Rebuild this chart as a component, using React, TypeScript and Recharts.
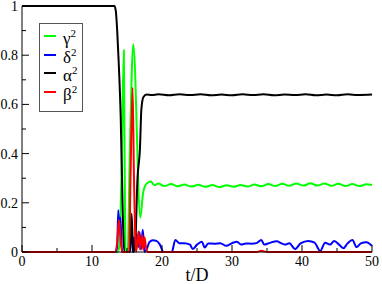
import React from 'react';
import { LineChart, Line, XAxis, YAxis, Legend } from 'recharts';

// [t/D, value]
const gamma: [number, number][] = [
  [0, 0], [13.6, 0], [13.9, 0.02], [14.2, 0.3], [14.55, 0.82], [14.75, 0.02], [15.1, 0], [15.4, 0.4],
  [15.9, 0.845], [16.9, 0.14], [17.3, 0.24], [17.8, 0.278], [18.4, 0.287], [18.9, 0.272], [19.5, 0.278],
  [20.3, 0.268], [21.3, 0.276], [22.2, 0.267], [23.2, 0.274], [24.2, 0.266], [25.2, 0.273], [26.2, 0.265],
  [27.2, 0.272], [28.2, 0.264], [29.2, 0.271], [30.2, 0.265], [31.2, 0.272], [32.2, 0.266], [33.2, 0.274],
  [34.2, 0.267], [35.2, 0.276], [36.2, 0.268], [37.2, 0.277], [38.2, 0.269], [39.2, 0.278], [40.2, 0.27],
  [41.2, 0.279], [42.2, 0.27], [43.2, 0.278], [44.2, 0.269], [45.2, 0.277], [46.2, 0.268], [47.2, 0.276],
  [48.2, 0.268], [49.2, 0.275], [50, 0.272],
];

const delta: [number, number][] = [
  [0, 0], [13.3, 0], [13.6, 0.02], [13.75, 0.17], [13.9, 0.1], [14.05, 0.14], [14.3, 0], [15.4, 0],
  [15.6, 0.15], [15.8, 0], [16.0, 0.06], [16.2, 0.01], [16.4, 0.07], [16.6, 0.02], [16.8, 0.08], [17.0, 0.01],
  [17.25, 0.09], [17.5, 0], [17.8, 0.01], [18.2, 0.04], [18.7, 0.048], [19.2, 0.045], [19.7, 0.03], [20.2, 0],
  [21.4, 0], [21.9, 0.049], [22.5, 0.036], [23.2, 0.036], [24.0, 0.03], [24.4, 0.012], [25.0, 0.03],
  [25.7, 0.042], [26.1, 0.018], [26.6, 0.035], [27.5, 0.034], [28.3, 0.036], [29.2, 0.025], [30.0, 0.036],
  [30.7, 0.042], [31.3, 0.03], [32.0, 0.035], [32.8, 0.034], [33.5, 0.036], [34.2, 0.049], [34.6, 0.03],
  [35.3, 0.036], [36.4, 0.044], [37.0, 0.036], [37.6, 0.03], [38.2, 0.036], [39.0, 0.012], [39.8, 0.035],
  [40.9, 0.045], [41.8, 0.038], [42.6, 0.004], [43.3, 0.038], [44.0, 0.03], [44.6, 0.045], [45.3, 0.03],
  [45.9, 0.015], [46.5, 0.035], [47.2, 0.049], [47.8, 0.02], [48.4, 0.035], [49.2, 0.04], [50, 0.025],
];

const alpha: [number, number][] = [
  [0, 1], [13.2, 1], [13.4, 0.98], [13.6, 0.9], [13.8, 0.78], [14.1, 0.55], [14.4, 0.15], [14.6, 0],
  [15.45, 0], [15.65, 0.155], [15.9, 0], [16.15, 0.02], [16.5, 0.3], [16.85, 0.42], [17.05, 0.58],
  [17.35, 0.63], [17.8, 0.64], [18.5, 0.638], [19.5, 0.641], [21.0, 0.637], [22.5, 0.641], [24.0, 0.638],
  [25.5, 0.641], [27.0, 0.637], [28.5, 0.64], [30.0, 0.637], [31.5, 0.641], [33.0, 0.638], [34.5, 0.641],
  [36.0, 0.637], [37.5, 0.64], [39.0, 0.638], [40.5, 0.641], [42.0, 0.637], [43.5, 0.64], [45.0, 0.637],
  [46.5, 0.641], [48.0, 0.638], [50, 0.64],
];

const beta: [number, number][] = [
  [0, 0], [13.3, 0], [13.6, 0.04], [13.85, 0.13], [14.0, 0.08], [14.3, 0], [15.3, 0], [15.5, 0.3],
  [15.8, 0.668], [16.0, 0.3], [16.3, 0], [16.5, 0.05], [16.65, 0.083], [16.85, 0.01], [17.0, 0.05],
  [17.15, 0.07], [17.3, 0.01], [17.5, 0.06], [17.7, 0.02], [18.0, 0], [33.5, 0], [34.2, 0.005], [35, 0], [50, 0],
];

const series = [
  { key: 'gamma', name: 'γ', color: '#00ff00', data: gamma },
  { key: 'delta', name: 'δ', color: '#0000ff', data: delta },
  { key: 'alpha', name: 'α', color: '#000000', data: alpha },
  { key: 'beta', name: 'β', color: '#ff0000', data: beta },
];

const xTicks = [0, 5, 10, 15, 20, 25, 30, 35, 40, 45, 50];
const yTicks = [0, 0.1, 0.2, 0.3, 0.4, 0.5, 0.6, 0.7, 0.8, 0.9, 1];

const FONT = '"Liberation Serif", "DejaVu Serif", serif';
const isMajorX = (v: number) => v % 10 === 0;
const isMajorY = (v: number) => Math.round(v * 10) % 2 === 0;
const fmtY = (v: number) => (v === 0 ? '0' : v === 1 ? '1' : v.toFixed(1));

const BottomTick = (props: any) => {
  const { x, y, payload } = props;
  const major = isMajorX(payload.value);
  return (
    <g>
      <line x1={x} x2={x} y1={y} y2={y - (major ? 7 : 4)} stroke="#000" />
      {major && (
        <text x={x} y={y + 14} textAnchor="middle" fontFamily={FONT} fontSize={14} fill="#000">
          {payload.value}
        </text>
      )}
    </g>
  );
};

const TopTick = (props: any) => {
  const { x, y, payload } = props;
  const major = isMajorX(payload.value);
  return <line x1={x} x2={x} y1={y} y2={y + (major ? 7 : 4)} stroke="#000" />;
};

const LeftTick = (props: any) => {
  const { x, y, payload } = props;
  const major = isMajorY(payload.value);
  return (
    <g>
      <line x1={x} x2={x + (major ? 7 : 4)} y1={y} y2={y} stroke="#000" />
      {major && (
        <text x={x - 4} y={y + 5} textAnchor="end" fontFamily={FONT} fontSize={14} fill="#000">
          {fmtY(payload.value)}
        </text>
      )}
    </g>
  );
};

const RightTick = (props: any) => {
  const { x, y, payload } = props;
  const major = isMajorY(payload.value);
  return <line x1={x} x2={x - (major ? 7 : 4)} y1={y} y2={y} stroke="#000" />;
};

const LegendBox = () => (
  <div
    style={{
      border: '1px solid #555',
      background: '#fff',
      padding: '3px 0 0 4px',
      width: 44,
      height: 89,
      boxSizing: 'border-box',
      fontFamily: FONT,
      fontSize: 17,
    }}
  >
    {series.map((s) => (
      <div key={s.key} style={{ display: 'flex', alignItems: 'center', height: 18.5 }}>
        <span style={{ display: 'inline-block', width: 12, height: 2, background: s.color, marginRight: 7 }} />
        <span style={{ color: '#000', lineHeight: '17px' }}>
          {s.name}
          <sup style={{ fontSize: 11, verticalAlign: 7 }}>2</sup>
        </span>
      </div>
    ))}
  </div>
);

export default function App() {
  return (
    <div style={{ position: 'absolute', left: 0, top: 0, background: '#fff' }}>
      <LineChart width={382} height={284} margin={{ top: 6, right: 10, left: 0, bottom: 0 }}>
        <XAxis
          xAxisId="b"
          dataKey="t"
          type="number"
          domain={[0, 50]}
          ticks={xTicks}
          interval={0}
          tickSize={0}
          tickMargin={0}
          tickLine={false}
          tick={<BottomTick />}
          axisLine={{ stroke: '#000' }}
          height={32}
          label={{ value: 't/D', position: 'insideBottom', offset: 3, style: { fontFamily: FONT, fontSize: 18, fill: '#000' } }}
        />
        <XAxis
          xAxisId="t"
          orientation="top"
          dataKey="t"
          type="number"
          domain={[0, 50]}
          ticks={xTicks}
          interval={0}
          tickSize={0}
          tickMargin={0}
          tickLine={false}
          tick={<TopTick />}
          axisLine={{ stroke: '#000' }}
          height={0}
        />
        <YAxis
          yAxisId="l"
          type="number"
          domain={[0, 1]}
          ticks={yTicks}
          interval={0}
          tickSize={0}
          tickMargin={0}
          tickLine={false}
          tick={<LeftTick />}
          axisLine={{ stroke: '#000' }}
          width={22}
        />
        <YAxis
          yAxisId="r"
          orientation="right"
          type="number"
          domain={[0, 1]}
          ticks={yTicks}
          interval={0}
          tickSize={0}
          tickMargin={0}
          tickLine={false}
          tick={<RightTick />}
          axisLine={{ stroke: '#000' }}
          width={0}
        />
        <Legend
          layout="vertical"
          align="center"
          verticalAlign="middle"
          content={<LegendBox />}
          wrapperStyle={{ position: 'absolute', left: 39, top: 23, width: 44, height: 89 }}
        />
        {series.map((s) => (
          <Line
            key={s.key}
            xAxisId="b"
            yAxisId="l"
            data={s.data.map(([t, v]) => ({ t, v }))}
            dataKey="v"
            name={s.name}
            type="monotone"
            stroke={s.color}
            strokeWidth={2}
            dot={false}
            isAnimationActive={false}
          />
        ))}
      </LineChart>
    </div>
  );
}
